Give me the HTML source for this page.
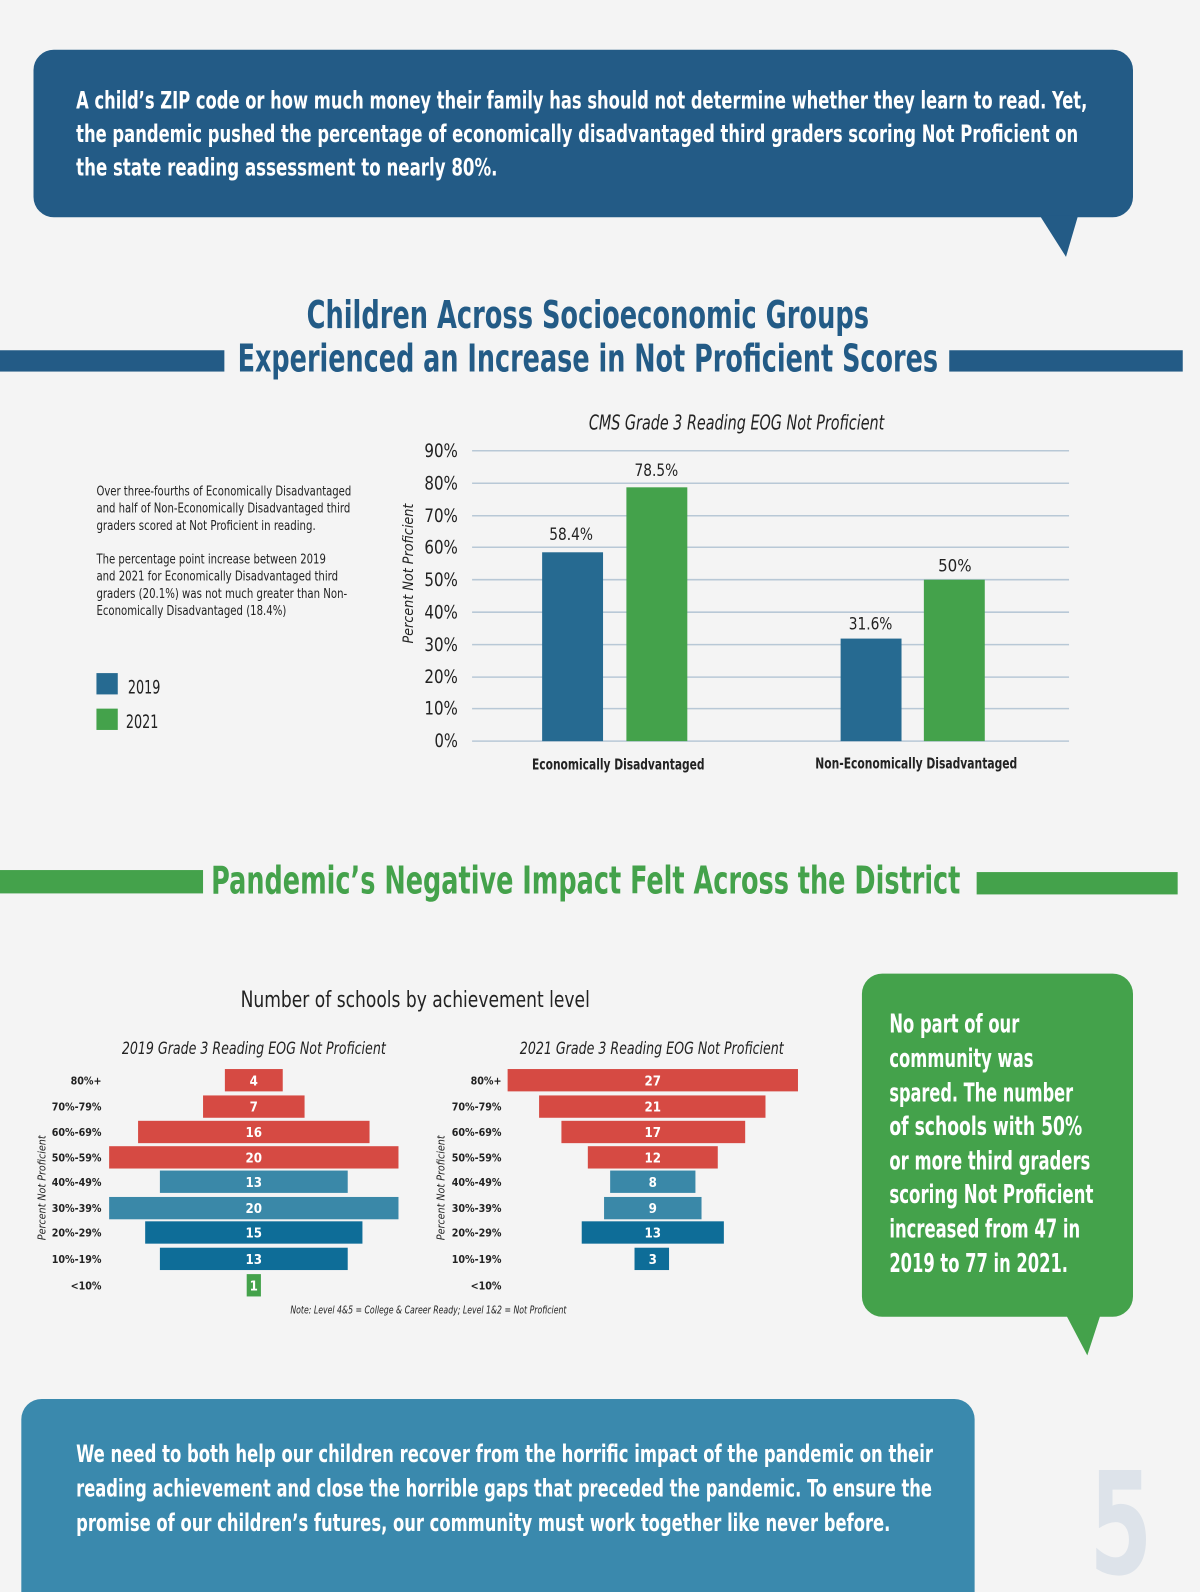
<!DOCTYPE html>
<html><head><meta charset="utf-8"><style>html,body{margin:0;padding:0;background:#f4f4f4}svg{display:block}</style></head>
<body>
<svg width="1200" height="1592" viewBox="0 0 1200 1592" xmlns="http://www.w3.org/2000/svg" font-family="Liberation Sans Narrow, DejaVu Sans Condensed, Liberation Sans, sans-serif">
<rect width="1200" height="1592" fill="#f4f4f4"/>
<g transform="scale(1.01523)">
<!-- top box -->
<rect x="33" y="49" width="1083" height="165" rx="20" fill="#235b86"/>
<polygon points="1024,212 1062,212 1050,253" fill="#235b86"/>
<g fill="#fff" font-weight="bold" font-size="24">
<text x="75" y="107" textLength="996" lengthAdjust="spacingAndGlyphs">A child’s ZIP code or how much money their family has should not determine whether they learn to read. Yet,</text>
<text x="75" y="140" textLength="987" lengthAdjust="spacingAndGlyphs">the pandemic pushed the percentage of economically disadvantaged third graders scoring Not Proficient on</text>
<text x="75" y="173" textLength="415" lengthAdjust="spacingAndGlyphs">the state reading assessment to nearly 80%.</text>
</g>
<!-- title 1 -->
<rect x="0" y="345" width="221" height="21" fill="#235b86"/>
<rect x="935" y="345" width="230" height="21" fill="#235b86"/>
<g fill="#235b86" font-weight="bold" font-size="38">
<text x="302" y="323" textLength="554" lengthAdjust="spacingAndGlyphs">Children Across Socioeconomic Groups</text>
<text x="234" y="366" textLength="690" lengthAdjust="spacingAndGlyphs">Experienced an Increase in Not Proficient Scores</text>
</g>
<!-- left text -->
<g fill="#222" font-size="13">
<text x="95" y="488" textLength="251" lengthAdjust="spacingAndGlyphs">Over three-fourths of Economically Disadvantaged</text>
<text x="95" y="505" textLength="250" lengthAdjust="spacingAndGlyphs">and half of Non-Economically Disadvantaged third</text>
<text x="95" y="522" textLength="216" lengthAdjust="spacingAndGlyphs">graders scored at Not Proficient in reading.</text>
<text x="95" y="555" textLength="226" lengthAdjust="spacingAndGlyphs">The percentage point increase between 2019</text>
<text x="95" y="572" textLength="238" lengthAdjust="spacingAndGlyphs">and 2021 for Economically Disadvantaged third</text>
<text x="95" y="589" textLength="247" lengthAdjust="spacingAndGlyphs">graders (20.1%) was not much greater than Non-</text>
<text x="95" y="606" textLength="187" lengthAdjust="spacingAndGlyphs">Economically Disadvantaged (18.4%)</text>
</g>
<rect x="95" y="663" width="21" height="21" fill="#266a91"/>
<rect x="95" y="698" width="21" height="21" fill="#44a24b"/>
<text x="126" y="683" font-size="18" fill="#222" textLength="32" lengthAdjust="spacingAndGlyphs">2019</text>
<text x="124" y="717" font-size="18" fill="#222" textLength="32" lengthAdjust="spacingAndGlyphs">2021</text>
<!-- bar chart -->
<text x="580" y="423" font-size="20" font-style="italic" fill="#222" textLength="291" lengthAdjust="spacingAndGlyphs">CMS Grade 3 Reading EOG Not Proficient</text>
<g stroke="#b8c8d6" stroke-width="1.5">
<line x1="465" x2="1053" y1="444" y2="444"/><line x1="465" x2="1053" y1="476" y2="476"/>
<line x1="465" x2="1053" y1="508" y2="508"/><line x1="465" x2="1053" y1="539" y2="539"/>
<line x1="465" x2="1053" y1="571" y2="571"/><line x1="465" x2="1053" y1="603" y2="603"/>
<line x1="465" x2="1053" y1="635" y2="635"/><line x1="465" x2="1053" y1="667" y2="667"/>
<line x1="465" x2="1053" y1="698" y2="698"/><line x1="465" x2="1053" y1="730" y2="730"/>
</g>
<g font-size="18" fill="#222">
<text x="418" y="450" textLength="33" lengthAdjust="spacingAndGlyphs">90%</text>
<text x="418" y="482" textLength="33" lengthAdjust="spacingAndGlyphs">80%</text>
<text x="418" y="514" textLength="33" lengthAdjust="spacingAndGlyphs">70%</text>
<text x="418" y="545" textLength="33" lengthAdjust="spacingAndGlyphs">60%</text>
<text x="418" y="577" textLength="33" lengthAdjust="spacingAndGlyphs">50%</text>
<text x="418" y="609" textLength="33" lengthAdjust="spacingAndGlyphs">40%</text>
<text x="418" y="641" textLength="33" lengthAdjust="spacingAndGlyphs">30%</text>
<text x="418" y="673" textLength="33" lengthAdjust="spacingAndGlyphs">20%</text>
<text x="418" y="704" textLength="33" lengthAdjust="spacingAndGlyphs">10%</text>
<text x="428" y="736" textLength="23" lengthAdjust="spacingAndGlyphs">0%</text>
</g>
<text transform="translate(407,565) rotate(-90)" text-anchor="middle" font-size="14" font-style="italic" fill="#222">Percent Not Proficient</text>
<rect x="534" y="544" width="60" height="186" fill="#266a91"/>
<rect x="617" y="480" width="60" height="250" fill="#44a24b"/>
<rect x="828" y="629" width="60" height="101" fill="#266a91"/>
<rect x="910" y="571" width="60" height="159" fill="#44a24b"/>
<g font-size="17" fill="#222">
<text x="541" y="532" textLength="43" lengthAdjust="spacingAndGlyphs">58.4%</text>
<text x="625" y="469" textLength="43" lengthAdjust="spacingAndGlyphs">78.5%</text>
<text x="836" y="620" textLength="43" lengthAdjust="spacingAndGlyphs">31.6%</text>
<text x="924" y="563" textLength="33" lengthAdjust="spacingAndGlyphs">50%</text>
</g>
<g font-size="15" font-weight="bold" fill="#222">
<text x="524" y="758" textLength="170" lengthAdjust="spacingAndGlyphs">Economically Disadvantaged</text>
<text x="803" y="757" textLength="199" lengthAdjust="spacingAndGlyphs">Non-Economically Disadvantaged</text>
</g>
<!-- title 2 -->
<rect x="0" y="857" width="200" height="23" fill="#44a24b"/>
<rect x="962" y="859" width="198" height="22" fill="#44a24b"/>
<text x="208" y="880" font-size="38" font-weight="bold" fill="#44a24b" textLength="738" lengthAdjust="spacingAndGlyphs">Pandemic’s Negative Impact Felt Across the District</text>
<!-- pyramids -->
<text x="237" y="992" font-size="22" fill="#222" textLength="344" lengthAdjust="spacingAndGlyphs">Number of schools by achievement level</text>
<g font-size="17" font-style="italic" fill="#222">
<text x="120" y="1038" textLength="260" lengthAdjust="spacingAndGlyphs">2019 Grade 3 Reading EOG Not Proficient</text>
<text x="512" y="1038" textLength="260" lengthAdjust="spacingAndGlyphs">2021 Grade 3 Reading EOG Not Proficient</text>
</g>
<g font-size="10.5" font-weight="bold" fill="#222" text-anchor="end">
<text x="100" y="1068">80%+</text><text x="100" y="1094">70%-79%</text><text x="100" y="1119">60%-69%</text>
<text x="100" y="1144">50%-59%</text><text x="100" y="1168">40%-49%</text><text x="100" y="1194">30%-39%</text>
<text x="100" y="1218">20%-29%</text><text x="100" y="1244">10%-19%</text><text x="100" y="1270">&lt;10%</text>
<text x="494" y="1068">80%+</text><text x="494" y="1094">70%-79%</text><text x="494" y="1119">60%-69%</text>
<text x="494" y="1144">50%-59%</text><text x="494" y="1168">40%-49%</text><text x="494" y="1194">30%-39%</text>
<text x="494" y="1218">20%-29%</text><text x="494" y="1244">10%-19%</text><text x="494" y="1270">&lt;10%</text>
</g>
<text transform="translate(45,1170) rotate(-90)" text-anchor="middle" font-size="10.5" font-style="italic" fill="#222">Percent Not Proficient</text>
<text transform="translate(438,1170) rotate(-90)" text-anchor="middle" font-size="10.5" font-style="italic" fill="#222">Percent Not Proficient</text>
<rect x="221.5" y="1053" width="57" height="22" fill="#d64a43"/>
<rect x="200" y="1079" width="100" height="22" fill="#d64a43"/>
<rect x="136" y="1104" width="228" height="22" fill="#d64a43"/>
<rect x="107.5" y="1129" width="285" height="22" fill="#d64a43"/>
<rect x="157.5" y="1153" width="185" height="22" fill="#3a88a8"/>
<rect x="107.5" y="1179" width="285" height="22" fill="#3a88a8"/>
<rect x="143" y="1203" width="214" height="22" fill="#0e6d98"/>
<rect x="157.5" y="1229" width="185" height="22" fill="#0e6d98"/>
<rect x="243" y="1255" width="14" height="22" fill="#44a24b"/>
<rect x="500" y="1053" width="286" height="22" fill="#d64a43"/>
<rect x="531" y="1079" width="223" height="22" fill="#d64a43"/>
<rect x="553" y="1104" width="181" height="22" fill="#d64a43"/>
<rect x="579" y="1129" width="128" height="22" fill="#d64a43"/>
<rect x="601" y="1153" width="84" height="22" fill="#3a88a8"/>
<rect x="595" y="1179" width="96" height="22" fill="#3a88a8"/>
<rect x="573" y="1203" width="140" height="22" fill="#0e6d98"/>
<rect x="625" y="1229" width="34" height="22" fill="#0e6d98"/>
<g font-size="13" font-weight="bold" fill="#fff" text-anchor="middle">
<text x="250" y="1069">4</text><text x="250" y="1095">7</text><text x="250" y="1120">16</text>
<text x="250" y="1145">20</text><text x="250" y="1169">13</text><text x="250" y="1195">20</text>
<text x="250" y="1219">15</text><text x="250" y="1245">13</text><text x="250" y="1271">1</text>
<text x="643" y="1069">27</text><text x="643" y="1095">21</text><text x="643" y="1120">17</text>
<text x="643" y="1145">12</text><text x="643" y="1169">8</text><text x="643" y="1195">9</text>
<text x="643" y="1219">13</text><text x="643" y="1245">3</text>
</g>
<text x="286" y="1294" font-size="10" font-style="italic" fill="#222" textLength="272" lengthAdjust="spacingAndGlyphs">Note: Level 4&amp;5 = College &amp; Career Ready; Level 1&amp;2 = Not Proficient</text>
<!-- green box -->
<rect x="849" y="959" width="267" height="338" rx="20" fill="#44a24b"/>
<polygon points="1050,1295 1084,1295 1071,1335" fill="#44a24b"/>
<g fill="#fff" font-weight="bold" font-size="25">
<text x="876" y="1017" textLength="128" lengthAdjust="spacingAndGlyphs">No part of our</text>
<text x="876" y="1051" textLength="142" lengthAdjust="spacingAndGlyphs">community was</text>
<text x="876" y="1085" textLength="181" lengthAdjust="spacingAndGlyphs">spared. The number</text>
<text x="876" y="1118" textLength="190" lengthAdjust="spacingAndGlyphs">of schools with 50%</text>
<text x="876" y="1152" textLength="198" lengthAdjust="spacingAndGlyphs">or more third graders</text>
<text x="876" y="1185" textLength="201" lengthAdjust="spacingAndGlyphs">scoring Not Proficient</text>
<text x="876" y="1219" textLength="188" lengthAdjust="spacingAndGlyphs">increased from 47 in</text>
<text x="876" y="1253" textLength="176" lengthAdjust="spacingAndGlyphs">2019 to 77 in 2021.</text>
</g>
<!-- bottom box -->
<rect x="21" y="1378" width="939" height="240" rx="20" fill="#3a89ad"/>
<g fill="#fff" font-weight="bold" font-size="24">
<text x="75" y="1440" textLength="844" lengthAdjust="spacingAndGlyphs">We need to both help our children recover from the horrific impact of the pandemic on their</text>
<text x="75" y="1474" textLength="843" lengthAdjust="spacingAndGlyphs">reading achievement and close the horrible gaps that preceded the pandemic. To ensure the</text>
<text x="75" y="1508" textLength="802" lengthAdjust="spacingAndGlyphs">promise of our children’s futures, our community must work together like never before.</text>
</g>
<text x="1073" y="1550" font-size="140" font-weight="bold" fill="#dde3ea" textLength="62" lengthAdjust="spacingAndGlyphs">5</text>
</g>
</svg>
</body></html>
